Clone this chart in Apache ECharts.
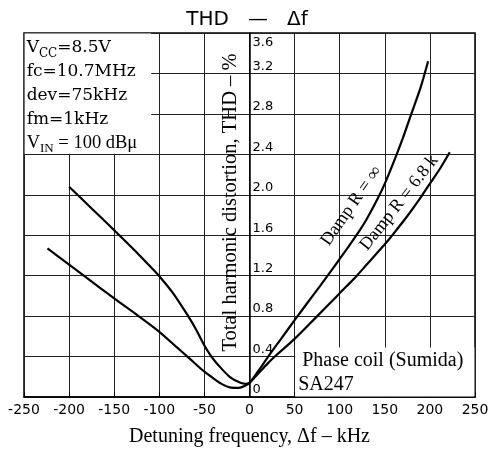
<!DOCTYPE html>
<html><head><meta charset="utf-8">
<script src="https://cdn.jsdelivr.net/npm/echarts@6/dist/echarts.min.js"></script>
<style>html,body{margin:0;padding:0;background:#fff}#c{width:494px;height:452px}</style>
</head><body><div id="c"></div>
<script>
// Detuning frequency (kHz) and THD (%)
const dampInfX = [-200,-175,-150,-125,-110,-100,-85,-68,-60,-50,-43,-35,-22,-10,-4,0,10,20,35,50,70,85,100,110,122,130,142,150,161,170,179,190,198];
const dampInfY = [2.08,1.865,1.65,1.43,1.29,1.195,1.03,0.80,0.68,0.51,0.41,0.32,0.20,0.14,0.13,0.14,0.26,0.39,0.575,0.76,1.0,1.18,1.365,1.49,1.645,1.76,1.96,2.11,2.35,2.56,2.79,3.07,3.32];
const damp68X = [-224,-200,-180,-150,-123,-100,-81,-67,-50,-37,-30,-22,-12,-4,0,10,20,28,50,74,96,107,118,130,150,157,175,191,200,212,222];
const damp68Y = [1.47,1.31,1.175,0.975,0.80,0.645,0.495,0.385,0.25,0.165,0.125,0.095,0.09,0.115,0.14,0.235,0.33,0.40,0.575,0.79,0.99,1.09,1.19,1.31,1.51,1.585,1.79,1.99,2.11,2.27,2.42];
const yTickLabels = ['0','0.4','0.8','1.2','1.6','2.0','2.4','2.8','3.2','3.6'];
const seriesNames = ['Damp R = ∞','Damp R = 6.8 k'];

const zip = (xs, ys) => xs.map((x, i) => [x, ys[i]]);
const serif = 'Liberation Serif';
const W = 494, gridLeft = 24, gridRight = 19;
const xMin = -250, xMax = 250;
// place the y axis at x = 0
const yAxisOffset = -((0 - xMin) / (xMax - xMin)) * (W - gridLeft - gridRight);
const chart = echarts.init(document.getElementById('c'));

chart.setOption({
  animation: false,
  backgroundColor: '#fff',
  title: {
    text: 'THD   —   Δf', left: 'center', top: 5,
    textStyle: {fontFamily: 'DejaVu Sans', fontSize: 20, fontWeight: 'normal', color: '#000'}
  },
  grid: {left: gridLeft, right: gridRight, top: 33, bottom: 52, show: true, borderColor: '#000', borderWidth: 1.5},
  xAxis: {
    type: 'value', min: xMin, max: xMax, interval: 50,
    axisLine: {onZero: false, lineStyle: {color: '#000', width: 1.5}},
    axisTick: {show: true, inside: true, length: 5, lineStyle: {color: '#000'}},
    axisLabel: {color: '#000', fontFamily: 'DejaVu Sans', fontSize: 14, margin: 6},
    splitLine: {show: true, lineStyle: {color: '#222', width: 1}},
    name: 'Detuning frequency, Δf – kHz', nameLocation: 'middle', nameGap: 30,
    nameTextStyle: {fontFamily: serif, fontSize: 20, color: '#000'}
  },
  yAxis: {
    type: 'value', min: 0, max: 3.6, interval: 0.4,
    position: 'left', offset: yAxisOffset,
    axisLine: {show: true, onZero: false, lineStyle: {color: '#000', width: 1.5}},
    axisTick: {show: false},
    axisLabel: {
      inside: true, margin: 3, verticalAlign: 'middle',
      formatter: v => {
        const s = yTickLabels[Math.round(v / 0.4)];
        return v >= 3.59 ? '{t|' + s + '}' : '{n|' + s + '}';
      },
      rich: {
        n: {fontFamily: 'DejaVu Sans', fontSize: 13, color: '#000', padding: [0, 0, 14, 0]},
        t: {fontFamily: 'DejaVu Sans', fontSize: 13, color: '#000', padding: [20, 0, 0, 0]}
      }
    },
    splitLine: {show: true, lineStyle: {color: '#222', width: 1}},
    name: 'Total harmonic distortion, THD – %', nameLocation: 'middle', nameRotate: 90, nameGap: -3,
    nameTextStyle: {fontFamily: serif, fontSize: 20.5, color: '#000', padding: [0, 0, 0, 25]}
  },
  series: [
    {
      name: seriesNames[0], type: 'line', data: zip(dampInfX, dampInfY),
      smooth: 0.3, symbol: 'none', z: 3,
      lineStyle: {color: '#000', width: 2.2},
      markArea: {
        silent: true,
        itemStyle: {color: '#fff'},
        label: {
          show: true, position: 'insideTopLeft', distance: 2,
          formatter: '{m|V}{s|CC}{m|=8.5V}\n{m|fc=10.7MHz}\n{m|dev=75kHz}\n{m|fm=1kHz}\n{v|V}{vs|IN}{v| = 100 dBμ}',
          rich: {
            m: {fontFamily: 'DejaVu Serif', fontSize: 17, color: '#000', lineHeight: 24},
            s: {fontFamily: 'DejaVu Serif', fontSize: 12, color: '#000', lineHeight: 12, verticalAlign: 'bottom'},
            v: {fontFamily: serif, fontSize: 18.5, color: '#000', lineHeight: 23},
            vs: {fontFamily: serif, fontSize: 13, color: '#000', lineHeight: 11, verticalAlign: 'bottom'}
          }
        },
        data: [[{coord: [-249.3, 2.405]}, {coord: [-109, 3.594]}]]
      },
      markPoint: {
        symbol: 'circle', symbolSize: 1, itemStyle: {color: 'rgba(0,0,0,0)'},
        label: {show: true, position: 'inside', rotate: 55, fontFamily: serif, fontSize: 18, color: '#000',
          formatter: p => p.name},
        data: [{name: seriesNames[0], coord: [113, 1.89]}]
      }
    },
    {
      name: seriesNames[1], type: 'line', data: zip(damp68X, damp68Y),
      smooth: 0.3, symbol: 'none', z: 3,
      lineStyle: {color: '#000', width: 2.2},
      markArea: {
        silent: true,
        itemStyle: {color: '#fff'},
        label: {
          show: true, position: 'insideTopLeft', distance: 1,
          formatter: '{p|Phase coil (Sumida)}\n{q|SA247}',
          rich: {
            p: {fontFamily: serif, fontSize: 20, color: '#000', lineHeight: 24, padding: [0, 0, 0, 6]},
            q: {fontFamily: serif, fontSize: 20, color: '#000', lineHeight: 24, padding: [0, 0, 0, 2]}
          }
        },
        data: [[{coord: [50.7, 0.004]}, {coord: [249.3, 0.49]}]]
      },
      markPoint: {
        symbol: 'circle', symbolSize: 1, itemStyle: {color: 'rgba(0,0,0,0)'},
        label: {show: true, position: 'inside', rotate: 52, fontFamily: serif, fontSize: 18, color: '#000',
          formatter: p => p.name},
        data: [{name: seriesNames[1], coord: [166, 1.92]}]
      }
    }
  ]
});
</script></body></html>
